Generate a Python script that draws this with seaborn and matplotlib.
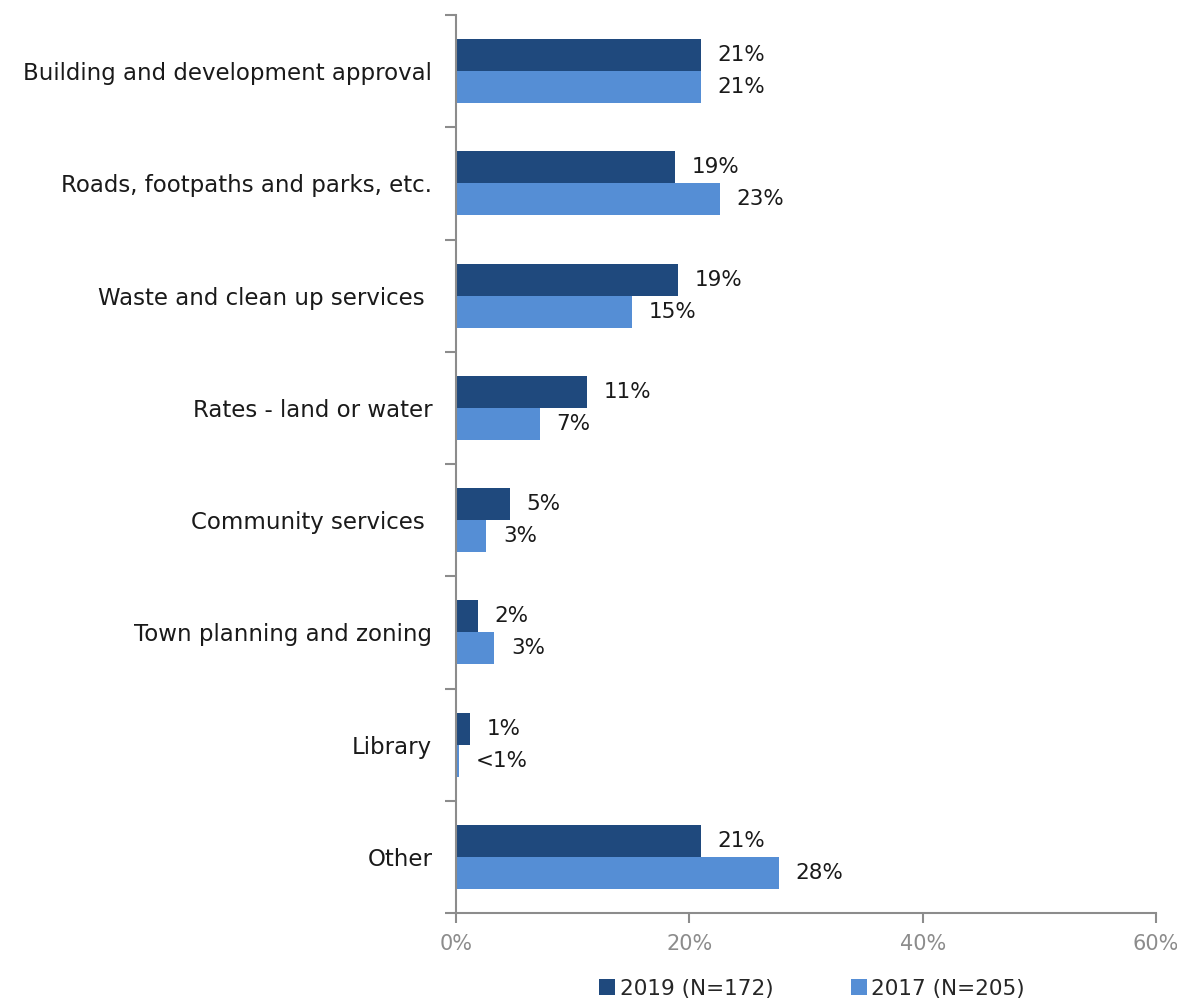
import matplotlib
matplotlib.use("Agg")
import matplotlib.pyplot as plt
from matplotlib.patches import Patch
from matplotlib.ticker import FixedLocator
import seaborn as sns
import pandas as pd
import numpy as np

categories = [
    "Building and development approval",
    "Roads, footpaths and parks, etc.",
    "Waste and clean up services ",
    "Rates - land or water",
    "Community services ",
    "Town planning and zoning",
    "Library",
    "Other",
]
series_names = ["2019 (N=172)", "2017 (N=205)"]
values_2019 = [21.0, 18.8, 19.0, 11.2, 4.6, 1.9, 1.2, 21.0]
values_2017 = [21.0, 22.6, 15.1, 7.2, 2.6, 3.3, 0.3, 27.7]
x_ticks = [0, 20, 40, 60]

colors = ["#1F497D", "#558ED5"]
grey = "#8C8C8C"

sns.set_style("white")
plt.rcParams["font.family"] = ["DejaVu Sans"]

df = pd.DataFrame({
    "category": categories * 2,
    "series": [series_names[0]] * len(categories) + [series_names[1]] * len(categories),
    "value": values_2019 + values_2017,
})

fig = plt.figure(figsize=(11.77, 10.0), dpi=100)
ax = fig.add_axes([0.3874, 0.087, 0.5948, 0.898])

sns.barplot(
    data=df, y="category", x="value", hue="series", order=categories,
    hue_order=series_names, palette=colors, width=0.57, orient="h",
    saturation=1, ax=ax, legend=False, errorbar=None, linewidth=0,
)


def fmt(v):
    return "<1%" if v < 0.5 else f"{int(round(v))}%"


for cont in ax.containers:
    labels = [fmt(b.get_width()) for b in cont]
    ax.bar_label(cont, labels=labels, padding=12, fontsize=15.5, color="#1a1a1a")

ax.set_xlim(0, 60)
ax.set_ylim(len(categories) - 0.5, -0.5)
ax.set_xticks(x_ticks)
ax.set_xticklabels([f"{t}%" for t in x_ticks], color=grey, fontsize=15)
ax.set_xlabel("")
ax.set_ylabel("")

ax.tick_params(axis="y", which="major", left=False, length=0, pad=17, labelsize=16.5, labelcolor="#1a1a1a")
ax.yaxis.set_minor_locator(FixedLocator(np.arange(-0.5, len(categories), 1.0)))
ax.tick_params(axis="y", which="minor", left=True, length=8, width=1.5, color=grey, direction="out")
ax.tick_params(axis="x", which="major", bottom=True, length=7, width=1.5, color=grey, direction="out", pad=8)

for side in ["top", "right"]:
    ax.spines[side].set_visible(False)
for side in ["left", "bottom"]:
    ax.spines[side].set_color(grey)
    ax.spines[side].set_linewidth(1.5)

handles = [Patch(facecolor=c, edgecolor="none", label=n) for c, n in zip(colors, series_names)]
fig.legend(
    handles=handles, loc="lower center", bbox_to_anchor=(0.69, -0.018), ncol=2,
    frameon=False, fontsize=15.5, handlelength=0.75, handleheight=0.75,
    handletextpad=0.2, columnspacing=3.6,
)

fig.savefig("out.png", dpi=100, facecolor="white")
